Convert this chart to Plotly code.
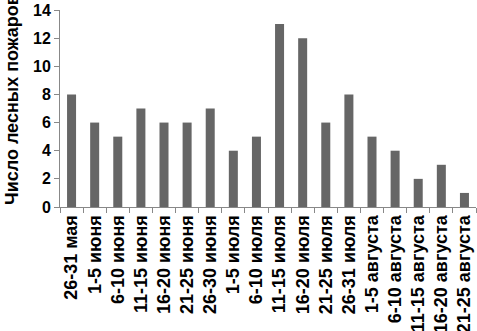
import plotly.graph_objects as go

categories = ["26-31 мая", "1-5 июня", "6-10 июня", "11-15 июня", "16-20 июня",
              "21-25 июня", "26-30 июня", "1-5 июля", "6-10 июля", "11-15 июля",
              "16-20 июля", "21-25 июля", "26-31 июля", "1-5 августа",
              "6-10 августа", "11-15 августа", "16-20 августа", "21-25 августа"]
fires = [8, 6, 5, 7, 6, 6, 7, 4, 5, 13, 12, 6, 8, 5, 4, 2, 3, 1]
y_ticks = [0, 2, 4, 6, 8, 10, 12, 14]
y_title = "Число лесных пожаров"

FONT = "Liberation Sans, Arial"

fig = go.Figure(go.Bar(x=categories, y=fires, marker=dict(color="#666666", line=dict(width=0))))

fig.update_layout(
    width=477, height=331,
    margin=dict(l=60, r=1, t=10, b=124),
    plot_bgcolor="white", paper_bgcolor="white",
    bargap=0.61, showlegend=False,
    font=dict(family=FONT, color="black"),
)
fig.update_xaxes(
    automargin=False,
    tickangle=-90, tickfont=dict(size=18, family=FONT, weight="bold"),
    showline=True, linecolor="#888888", linewidth=1,
    ticks="outside", tickson="boundaries", ticklen=5, tickcolor="#888888",
    showgrid=False,
)
fig.update_yaxes(
    automargin=False,
    range=[0, 14], tickvals=y_ticks,
    tickfont=dict(size=16, family=FONT, weight="bold"),
    showline=True, linecolor="#888888", linewidth=1,
    ticks="outside", ticklen=5, tickcolor="#888888",
    showgrid=False, zeroline=False,
)
fig.add_annotation(
    text=y_title, textangle=-90,
    xref="paper", yref="paper", x=-60/416, xanchor="left",
    y=(207 - 100) / 197, yanchor="middle",
    showarrow=False,
    font=dict(size=18, family=FONT, weight="bold", color="black"),
)

fig.write_html(
    "out.html",
    config={"displayModeBar": False},
    post_script="document.body.style.margin='0';document.body.style.overflow='hidden';",
)
